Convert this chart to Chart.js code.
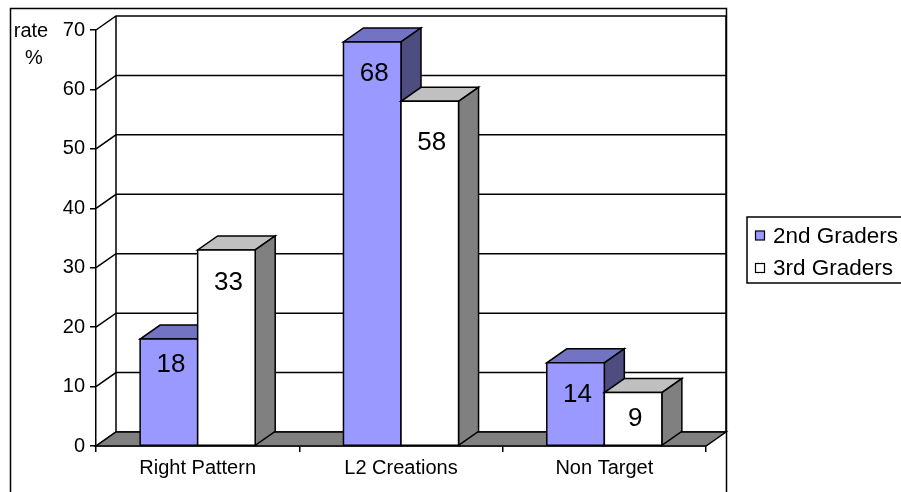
<!DOCTYPE html>
<html>
<head>
<meta charset="utf-8">
<title>rate %</title>
<script src="https://cdn.jsdelivr.net/npm/chart.js@4/dist/chart.umd.min.js"></script>
<style>
  html, body { margin: 0; padding: 0; background: #fff; }
  #c { display: block; }
</style>
</head>
<body>
<canvas id="c" width="901" height="492"></canvas>
<script>
// Categories, series and axis settings
const categories = ['Right Pattern', 'L2 Creations', 'Non Target'];
const seriesNames = ['2nd Graders', '3rd Graders'];
const grade2 = [18, 68, 14];
const grade3 = [33, 58, 9];
const yMin = 0, yMax = 70, yStep = 10;
const axisTitle = ['rate', '%'];

// Face colours: front, top, side
const palette = [
  { front: '#9999FF', top: '#7373C4', side: '#4D4D80' },
  { front: '#FFFFFF', top: '#C0C0C0', side: '#808080' }
];

const FONT = '"Liberation Sans", Arial, sans-serif';
const DX = 20, DY = 14;          // depth offset of the 3D box
const INK = '#000';
// distance (px) from a bar's top edge down to its value label, per category / series
const labelDrop = [[26, 33], [32, 42], [32, 26]];

// Back wall, side wall, gridlines and floor
const wallPlugin = {
  id: 'wall',
  beforeDatasetsDraw(chart) {
    const { ctx, chartArea: a, scales: { y } } = chart;
    ctx.save();
    ctx.strokeStyle = INK;
    ctx.lineWidth = 1.5;
    // outer frame
    ctx.strokeRect(10.5, 8.5, 716, 600);
    // gridlines on back wall + diagonals on side wall
    for (let v = yMin; v <= yMax; v += yStep) {
      const py = y.getPixelForValue(v);
      ctx.beginPath();
      ctx.moveTo(a.left, py);
      ctx.lineTo(a.left + DX, py - DY);
      ctx.lineTo(a.right + DX, py - DY);
      ctx.stroke();
    }
    // back wall vertical edges
    const top = y.getPixelForValue(yMax) - DY;
    const bot = y.getPixelForValue(yMin) - DY;
    ctx.beginPath();
    ctx.moveTo(a.left + DX, top); ctx.lineTo(a.left + DX, bot);
    ctx.moveTo(a.right + DX, top); ctx.lineTo(a.right + DX, bot);
    ctx.stroke();
    // floor
    const base = y.getPixelForValue(yMin);
    ctx.beginPath();
    ctx.moveTo(a.left, base);
    ctx.lineTo(a.right, base);
    ctx.lineTo(a.right + DX, base - DY);
    ctx.lineTo(a.left + DX, base - DY);
    ctx.closePath();
    ctx.fillStyle = '#808080';
    ctx.fill();
    ctx.stroke();
    // axis title
    ctx.fillStyle = INK;
    ctx.font = '20px ' + FONT;
    ctx.textAlign = 'center';
    ctx.textBaseline = 'alphabetic';
    ctx.fillText(axisTitle[0], 31, 37);
    ctx.fillText(axisTitle[1], 34, 64);
    ctx.restore();
  }
};

// 3D bars: top, side and front faces, then value labels
const boxPlugin = {
  id: 'box3d',
  beforeDatasetDraw() { return false; },
  afterDatasetsDraw(chart) {
    const { ctx } = chart;
    const metas = chart.data.datasets.map((_, i) => chart.getDatasetMeta(i));
    ctx.save();
    ctx.strokeStyle = INK;
    ctx.lineWidth = 1.5;
    ctx.lineJoin = 'miter';
    const poly = (pts, fill) => {
      ctx.beginPath();
      ctx.moveTo(pts[0][0], pts[0][1]);
      for (let k = 1; k < pts.length; k++) ctx.lineTo(pts[k][0], pts[k][1]);
      ctx.closePath();
      ctx.fillStyle = fill;
      ctx.fill();
      ctx.stroke();
    };
    const labels = [];
    categories.forEach((_, ci) => {
      metas.forEach((meta, di) => {
        const el = meta.data[ci];
        const { x, y, base, width } = el.getProps(['x', 'y', 'base', 'width'], true);
        const l = x - width / 2, r = x + width / 2;
        const c = palette[di];
        poly([[l, y], [r, y], [r + DX, y - DY], [l + DX, y - DY]], c.top);
        poly([[r, y], [r + DX, y - DY], [r + DX, base - DY], [r, base]], c.side);
        poly([[l, y], [r, y], [r, base], [l, base]], c.front);
        labels.push({ x: x + 2, y: y + labelDrop[ci][di], v: chart.data.datasets[di].data[ci] });
      });
    });
    ctx.fillStyle = INK;
    ctx.font = '26px ' + FONT;
    ctx.textAlign = 'center';
    ctx.textBaseline = 'middle';
    labels.forEach(p => ctx.fillText(String(p.v), p.x, p.y));
    ctx.restore();
  }
};

// Boxed legend on the right
const legendPlugin = {
  id: 'boxLegend',
  afterDraw(chart) {
    const { ctx } = chart;
    ctx.save();
    ctx.strokeStyle = INK;
    ctx.lineWidth = 1.5;
    ctx.strokeRect(747, 217, 200, 66);
    ctx.font = '22.5px ' + FONT;
    ctx.textAlign = 'left';
    ctx.textBaseline = 'middle';
    const rows = [235.5, 268];
    chart.data.datasets.forEach((ds, i) => {
      const cy = rows[i];
      ctx.fillStyle = palette[i].front;
      ctx.fillRect(755.5, cy - 4.5, 9, 9);
      ctx.lineWidth = 1.2;
      ctx.strokeRect(755.5, cy - 4.5, 9, 9);
      ctx.fillStyle = INK;
      ctx.fillText(ds.label, 773, cy + 1);
    });
    ctx.restore();
  }
};

new Chart(document.getElementById('c'), {
  type: 'bar',
  data: {
    labels: categories,
    datasets: [
      { label: seriesNames[0], data: grade2, backgroundColor: palette[0].front },
      { label: seriesNames[1], data: grade3, backgroundColor: palette[1].front }
    ]
  },
  options: {
    responsive: false,
    animation: false,
    devicePixelRatio: 1,
    layout: { padding: { left: 0, top: 30, right: 195, bottom: 0 } },
    datasets: { bar: { categoryPercentage: 0.566, barPercentage: 1 } },
    plugins: { legend: { display: false }, tooltip: { enabled: false } },
    scales: {
      x: {
        afterFit(s) { s.height = 46; },
        grid: { offset: true, drawOnChartArea: false, drawTicks: true, tickLength: 6, color: INK, lineWidth: 1.5 },
        border: { display: true, color: INK, width: 1.5 },
        ticks: { color: INK, font: { family: FONT, size: 20 }, padding: 4, maxRotation: 0 }
      },
      y: {
        min: yMin, max: yMax,
        afterFit(s) { s.width = 96; },
        grid: { drawOnChartArea: false, drawTicks: true, tickLength: 6, color: INK, lineWidth: 1.5 },
        border: { display: true, color: INK, width: 1.5 },
        ticks: { stepSize: yStep, color: INK, font: { family: FONT, size: 20 }, padding: 5 }
      }
    }
  },
  plugins: [wallPlugin, boxPlugin, legendPlugin]
});
</script>
</body>
</html>
